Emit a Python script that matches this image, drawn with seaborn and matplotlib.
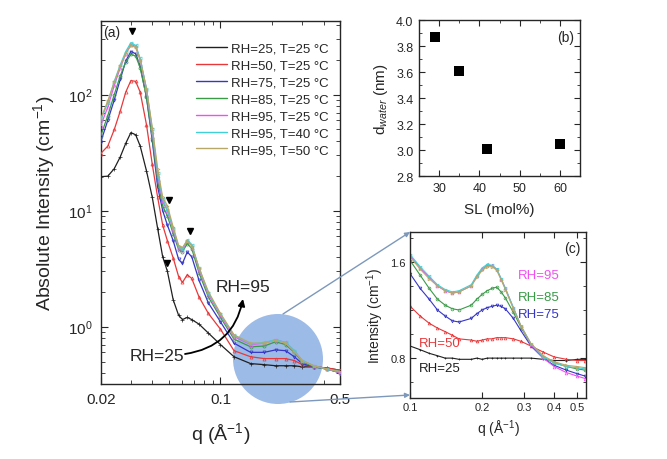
import numpy as np
import pandas as pd
import seaborn as sns
import matplotlib
matplotlib.use("Agg")
import matplotlib.pyplot as plt
from matplotlib.patches import Ellipse, FancyArrowPatch
from matplotlib.lines import Line2D
from matplotlib.ticker import FixedLocator, NullFormatter, MultipleLocator, FixedFormatter, FormatStrFormatter

# ---- panel (a): SAXS curves, absolute intensity vs q ----
q_a = [0.020, 0.022, 0.024, 0.026, 0.028, 0.030, 0.032, 0.034, 0.037, 0.040,
       0.043, 0.046, 0.049, 0.053, 0.057, 0.060, 0.064, 0.068, 0.075, 0.085,
       0.10, 0.12, 0.15, 0.18, 0.21, 0.24, 0.27, 0.30, 0.35, 0.42, 0.50]

I_rh25 = [19.6, 19.8, 23, 29, 38, 47, 45, 36, 22, 13,
          7.0, 4.0, 3.0, 1.7, 1.25, 1.15, 1.2, 1.15, 1.05, 0.88,
          0.70, 0.55, 0.48, 0.47, 0.46, 0.46, 0.46, 0.45, 0.45, 0.44, 0.42]
I_rh50 = [31, 36, 50, 72, 105, 132, 130, 105, 55, 25,
          13, 7.5, 5.5, 3.9, 2.7, 2.4, 2.8, 2.6, 1.8, 1.3,
          0.95, 0.62, 0.55, 0.53, 0.53, 0.53, 0.51, 0.47, 0.45, 0.44, 0.42]
I_rh75 = [39, 60, 90, 135, 195, 235, 225, 175, 95, 40,
          16, 10, 7.5, 5.5, 3.8, 3.5, 4.4, 4.0, 2.5, 1.6,
          1.1, 0.72, 0.60, 0.60, 0.63, 0.62, 0.55, 0.48, 0.45, 0.43, 0.40]
I_rh85 = [44, 66, 100, 145, 190, 222, 215, 170, 95, 42,
          18, 11, 9.0, 6.3, 4.6, 4.4, 5.2, 4.7, 2.9, 1.8,
          1.2, 0.78, 0.67, 0.68, 0.74, 0.70, 0.60, 0.50, 0.45, 0.43, 0.40]
I_rh95_t25 = [54, 78, 120, 170, 225, 270, 260, 200, 110, 48,
              20, 12, 10, 6.8, 4.8, 4.6, 5.5, 5.0, 3.1, 1.9,
              1.25, 0.82, 0.70, 0.72, 0.77, 0.73, 0.62, 0.51, 0.46, 0.43, 0.40]
I_rh95_t40 = [60, 85, 130, 180, 235, 280, 265, 205, 112, 50,
              21, 12.5, 10.2, 7.0, 4.9, 4.7, 5.6, 5.1, 3.2, 1.95,
              1.28, 0.84, 0.71, 0.73, 0.77, 0.73, 0.62, 0.51, 0.46, 0.43, 0.41]
I_rh95_t50 = [62, 88, 128, 175, 225, 265, 255, 200, 112, 52,
              23, 13, 11, 7.2, 5.0, 4.8, 5.5, 5.0, 3.2, 2.0,
              1.3, 0.85, 0.72, 0.72, 0.76, 0.72, 0.61, 0.51, 0.46, 0.43, 0.41]

labels_a = ["RH=25, T=25 °C", "RH=50, T=25 °C", "RH=75, T=25 °C", "RH=85, T=25 °C",
            "RH=95, T=25 °C", "RH=95, T=40 °C", "RH=95, T=50 °C"]
colors = ["#202020", "#e8383a", "#3636c8", "#3a9a48", "#f050f0", "#40d0d8", "#b8a868"]
markers = ["+", "^", "v", "o", "^", "<", ">"]

# peak markers (arrowheads) in panel (a)
peak_q = [0.0303, 0.0499, 0.0661, 0.0488]
peak_I = [350, 12.4, 6.7, 3.5]

# ---- panel (b): water layer thickness vs SL ----
sl = [29, 35, 42, 60]
d_water = [3.87, 3.61, 3.01, 3.05]

# ---- panel (c): zoom of the high-q region ----
q_c = [0.10, 0.11, 0.12, 0.13, 0.14, 0.15, 0.16, 0.18, 0.19, 0.20, 0.21, 0.22,
       0.23, 0.24, 0.25, 0.27, 0.29, 0.32, 0.36, 0.40, 0.45, 0.50, 0.54]
c_rh25 = [0.90, 0.87, 0.84, 0.82, 0.80, 0.80, 0.79, 0.79, 0.80, 0.79, 0.80, 0.80,
          0.80, 0.80, 0.80, 0.80, 0.80, 0.80, 0.79, 0.78, 0.78, 0.79, 0.79]
c_rh50 = [1.23, 1.15, 1.09, 1.05, 1.02, 0.99, 0.96, 0.95, 0.94, 0.95, 0.96, 0.96,
          0.97, 0.97, 0.97, 0.96, 0.94, 0.90, 0.85, 0.81, 0.79, 0.78, 0.78]
c_rh75 = [1.50, 1.38, 1.29, 1.20, 1.15, 1.11, 1.10, 1.13, 1.17, 1.20, 1.22, 1.23,
          1.24, 1.23, 1.21, 1.13, 1.03, 0.90, 0.80, 0.74, 0.70, 0.67, 0.65]
c_rh85 = [1.61, 1.49, 1.38, 1.29, 1.24, 1.21, 1.20, 1.24, 1.29, 1.33, 1.36, 1.38,
          1.39, 1.35, 1.30, 1.18, 1.06, 0.91, 0.81, 0.76, 0.73, 0.71, 0.70]
c_rh95 = [1.65, 1.55, 1.47, 1.40, 1.36, 1.34, 1.35, 1.40, 1.48, 1.54, 1.57, 1.57,
          1.54, 1.46, 1.38, 1.22, 1.07, 0.91, 0.80, 0.73, 0.68, 0.65, 0.63]
c_rh95_t40 = [1.66, 1.56, 1.48, 1.41, 1.37, 1.35, 1.36, 1.41, 1.49, 1.55, 1.58, 1.57,
              1.54, 1.46, 1.38, 1.22, 1.07, 0.92, 0.81, 0.76, 0.73, 0.72, 0.71]
c_rh95_t50 = [1.64, 1.54, 1.46, 1.40, 1.36, 1.34, 1.35, 1.40, 1.47, 1.53, 1.56, 1.56,
              1.53, 1.45, 1.37, 1.21, 1.07, 0.92, 0.82, 0.77, 0.74, 0.73, 0.72]

sns.set_style("ticks")
plt.rcParams['font.family'] = ['Liberation Sans', 'DejaVu Sans']
plt.rcParams['mathtext.fontset'] = 'custom'
plt.rcParams['mathtext.rm'] = 'Liberation Sans'
plt.rcParams['mathtext.it'] = 'Liberation Sans:italic'
plt.rcParams['xtick.direction'] = 'in'
plt.rcParams['ytick.direction'] = 'in'
plt.rcParams['xtick.top'] = True
plt.rcParams['ytick.right'] = True
plt.rcParams['axes.linewidth'] = 1.0

fig = plt.figure(figsize=(6.67, 4.6), dpi=100)
ax_a = fig.add_axes([0.151, 0.163, 0.359, 0.789])
ax_b = fig.add_axes([0.628, 0.615, 0.242, 0.339])
ax_c = fig.add_axes([0.615, 0.133, 0.264, 0.361])

# ---------- panel (a) ----------
series_a = [I_rh25, I_rh50, I_rh75, I_rh85, I_rh95_t25, I_rh95_t40, I_rh95_t50]
ax_a.set_xscale('log')
ax_a.set_yscale('log')
for vals, lab, col, mk in zip(series_a, labels_a, colors, markers):
    df = pd.DataFrame({"q": q_a, "I": vals})
    sns.lineplot(data=df, x="q", y="I", ax=ax_a, color=col, linewidth=0.9,
                 marker=mk, markersize=2.2, markeredgewidth=0.5, markeredgecolor=col,
                 markerfacecolor='none', zorder=3, legend=False)

ax_a.plot(peak_q, peak_I, linestyle='none', marker='v', color='black', markersize=4, zorder=4)

ax_a.set_xlim(0.02, 0.5)
ax_a.set_ylim(0.32, 430)
ax_a.xaxis.set_major_locator(FixedLocator([0.02, 0.1, 0.5]))
ax_a.xaxis.set_major_formatter(FixedFormatter(["0.02", "0.1", "0.5"]))
ax_a.xaxis.set_minor_locator(FixedLocator([0.03, 0.04, 0.05, 0.06, 0.07, 0.08, 0.09, 0.2, 0.3, 0.4]))
ax_a.xaxis.set_minor_formatter(NullFormatter())
ax_a.set_yticks([1, 10, 100])
ax_a.set_yticklabels(["10$^0$", "10$^1$", "10$^2$"])
ax_a.tick_params(which='major', length=5, labelsize=11, pad=6)
ax_a.tick_params(which='minor', length=3)
ax_a.set_xlabel("q (Å$^{-1}$)", fontsize=14, labelpad=10)
ax_a.set_ylabel("Absolute Intensity (cm$^{-1}$)", fontsize=14, labelpad=8)
ax_a.text(0.008, 0.97, "(a)", transform=ax_a.transAxes, fontsize=10, va='center', ha='left')

handles = [Line2D([], [], color=c, linewidth=1.0) for c in colors]
ax_a.legend(handles, labels_a, loc='upper right', bbox_to_anchor=(0.975, 0.955), frameon=False,
            fontsize=9.5, handlelength=2.4, handletextpad=0.3, labelspacing=0.35, borderaxespad=0)

# highlight circle and zoom connectors
circle = Ellipse((278 / 667, 1 - 360 / 460), 90 / 667, 90 / 460, transform=fig.transFigure,
                 facecolor='#9dbbe7', edgecolor='none', zorder=1, clip_on=False)
ax_a.add_patch(circle)

ax_a.annotate("", xy=(243 / 667, 1 - 300 / 460), xytext=(185 / 667, 1 - 355 / 460),
              xycoords='figure fraction', textcoords='figure fraction',
              arrowprops=dict(arrowstyle='-|>', color='black', lw=1.3, connectionstyle='arc3,rad=0.35',
                              mutation_scale=10, shrinkA=0, shrinkB=0))
fig.text(243 / 667, 1 - 288 / 460, "RH=95", fontsize=12.5, ha='center', va='center')
fig.text(157 / 667, 1 - 357 / 460, "RH=25", fontsize=12.5, ha='center', va='center')

for start, end in [((283, 315), (410, 233)), ((290, 403), (410, 396))]:
    fig.add_artist(FancyArrowPatch(
        (start[0] / 667, 1 - start[1] / 460), (end[0] / 667, 1 - end[1] / 460),
        transform=fig.transFigure, arrowstyle='-|>', mutation_scale=7,
        color='#7d98bb', lw=1.0, shrinkA=0, shrinkB=0))

# ---------- panel (b) ----------
df_b = pd.DataFrame({"SL": sl, "d": d_water})
sns.scatterplot(data=df_b, x="SL", y="d", ax=ax_b, marker='s', s=55, color='black',
                edgecolor='black', linewidth=0, legend=False)
ax_b.set_xlim(25, 65)
ax_b.set_ylim(2.8, 4.0)
ax_b.xaxis.set_major_locator(MultipleLocator(10))
ax_b.xaxis.set_minor_locator(MultipleLocator(5))
ax_b.yaxis.set_major_locator(MultipleLocator(0.2))
ax_b.yaxis.set_minor_locator(MultipleLocator(0.1))
ax_b.yaxis.set_major_formatter(FormatStrFormatter('%.1f'))
ax_b.tick_params(which='major', length=4, labelsize=9, pad=4)
ax_b.tick_params(which='minor', length=2)
ax_b.set_xlabel("SL (mol%)", fontsize=11, labelpad=6)
ax_b.set_ylabel("d$_{water}$ (nm)", fontsize=11, labelpad=4)
ax_b.text(0.907, 0.89, "(b)", transform=ax_b.transAxes, fontsize=10, ha='center', va='center')

# ---------- panel (c) ----------
series_c = [c_rh25, c_rh50, c_rh75, c_rh85, c_rh95, c_rh95_t40, c_rh95_t50]
ax_c.set_xscale('log')
for vals, col, mk in zip(series_c, colors, markers):
    df = pd.DataFrame({"q": q_c, "I": vals})
    sns.lineplot(data=df, x="q", y="I", ax=ax_c, color=col, linewidth=0.8,
                 marker=mk, markersize=2, markeredgewidth=0.5, markeredgecolor=col,
                 markerfacecolor='none', legend=False)
ax_c.set_xlim(0.1, 0.545)
ax_c.set_ylim(0.47, 1.85)
ax_c.xaxis.set_major_locator(FixedLocator([0.1, 0.2, 0.3, 0.4, 0.5]))
ax_c.xaxis.set_major_formatter(FixedFormatter(["0.1", "0.2", "0.3", "0.4", "0.5"]))
ax_c.xaxis.set_minor_locator(FixedLocator([]))
ax_c.set_yticks([0.8, 1.6])
ax_c.set_yticklabels(["0.8", "1.6"])
ax_c.yaxis.set_minor_locator(MultipleLocator(0.2))
ax_c.tick_params(which='major', length=4, labelsize=8, pad=3)
ax_c.tick_params(which='minor', length=2)
ax_c.set_xlabel("q (Å$^{-1}$)", fontsize=10, labelpad=4)
ax_c.set_ylabel("Intensity (cm$^{-1}$)", fontsize=10, labelpad=3)
ax_c.text(0.92, 0.90, "(c)", transform=ax_c.transAxes, fontsize=10, ha='center', va='center')
rh_text = [("RH=95", colors[4], 0.61, 0.74), ("RH=85", colors[3], 0.61, 0.61),
           ("RH=75", colors[2], 0.61, 0.505), ("RH=50", colors[1], 0.05, 0.33),
           ("RH=25", colors[0], 0.05, 0.18)]
for txt, col, x, y in rh_text:
    ax_c.text(x, y, txt, color=col, transform=ax_c.transAxes, fontsize=9.5, va='center', ha='left')

plt.savefig("out.png", dpi=100)
